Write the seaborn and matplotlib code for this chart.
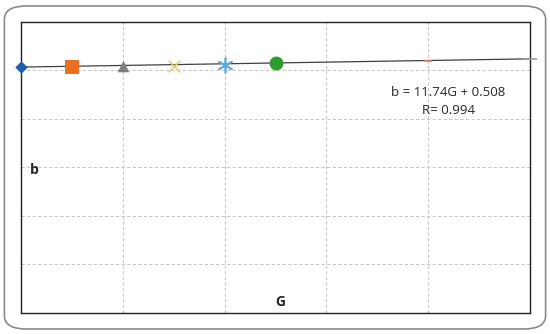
import matplotlib
matplotlib.use("Agg")
import matplotlib.pyplot as plt
import seaborn as sns
import pandas as pd
from matplotlib.patches import FancyBboxPatch

# series (arbitrary units, G on x, b on y)
g_vals = [0, 0.5, 1, 1.5, 2, 2.5, 4, 5]
b_vals = [5.07, 5.08, 5.10, 5.10, 5.12, 5.15, 5.20, 5.24]
colors = ['#1f5fa8', '#e8701f', '#7f7f7f', '#f2c860', '#5fa8d8', '#2e9b2e', '#f08060', '#a0a0a0']
markers = ['D', 's', '^', 'x', (6, 2, 0), 'o', '_', '_']
sizes = [40, 100, 70, 70, 110, 100, 40, 90]

fit_g = [0, 5]
fit_b = [5.07, 5.24]

sns.set_style("white")
plt.rcParams['font.family'] = ['Open Sans', 'DejaVu Sans']

fig = plt.figure(figsize=(5.5, 3.34), dpi=100)
fig.patches.append(FancyBboxPatch((0.008, 0.015), 0.984, 0.967,
                                  boxstyle="round,pad=0,rounding_size=0.04",
                                  transform=fig.transFigure, fill=False,
                                  edgecolor='#8a8a8a', linewidth=1.2))
ax = fig.add_axes([0.0382, 0.0629, 0.9255, 0.8713])

sns.lineplot(x=fit_g, y=fit_b, ax=ax, color='#404040', linewidth=0.9, zorder=2)

df = pd.DataFrame({'G': g_vals, 'b': b_vals})
for i in range(len(df)):
    line_mark = markers[i] in ('x', '_') or isinstance(markers[i], tuple)
    sns.scatterplot(x=[df.G[i]], y=[df.b[i]], ax=ax, marker=markers[i], s=sizes[i],
                    color=colors[i], linewidth=1.2 if line_mark else 0,
                    edgecolor=colors[i], zorder=3, clip_on=False)

ax.set_xlim(0, 5)
ax.set_ylim(0, 6)
ax.set_xticks([1, 2, 3, 4])
ax.set_yticks([1, 2, 3, 4, 5])
ax.set_xticklabels([])
ax.set_yticklabels([])
ax.tick_params(length=0)
ax.grid(True, linestyle=(0, (3, 2)), color='#c8c8c8', linewidth=0.8)
for s in ax.spines.values():
    s.set_color('#222222')
    s.set_linewidth(1.0)
ax.set_xlabel('')
ax.set_ylabel('')

ax.text(4.2, 4.54, 'b = 11.74G + 0.508', ha='center', va='center', fontsize=9.5)
ax.text(4.2, 4.17, 'R= 0.994', ha='center', va='center', fontsize=9.5)
ax.text(0.13, 2.95, 'b', ha='center', va='center', fontsize=10, fontweight='bold')
ax.text(2.55, 0.22, 'G', ha='center', va='center', fontsize=10, fontweight='bold')

fig.savefig('out.png', dpi=100)
